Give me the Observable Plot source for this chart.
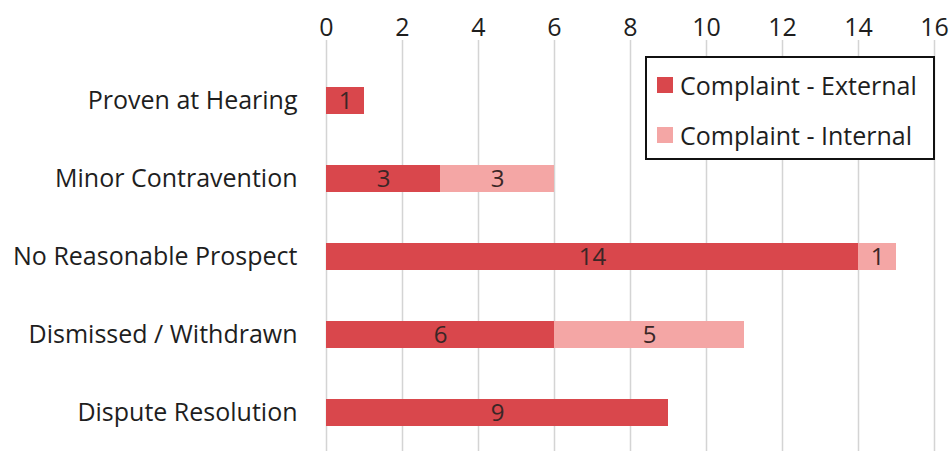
<!DOCTYPE html>
<html>
<head>
<meta charset="utf-8">
<script src="https://cdn.jsdelivr.net/npm/d3@7"></script>
<script src="https://cdn.jsdelivr.net/npm/@observablehq/plot@0.6"></script>
<style>
  body { margin: 0; background: #fff; }
  #wrap { position: relative; width: 949px; height: 451px; font-family: "Open Sans", sans-serif; }
  #legend { position: absolute; left: 645px; top: 56px; width: 286px; height: 100px; border: 2px solid #111; background: #fff; box-sizing: content-box; }
  .item { position: absolute; left: 10px; height: 34px; line-height: 34px; display: flex; align-items: center; font-size: 25px; color: #1e1e1e; white-space: nowrap; }
  .sw { width: 16px; height: 16px; margin-right: 7px; display: inline-block; }
</style>
</head>
<body>
<div id="wrap"></div>
<script>
const categories = ["Proven at Hearing", "Minor Contravention", "No Reasonable Prospect", "Dismissed / Withdrawn", "Dispute Resolution"];
const externalValues = [1, 3, 14, 6, 9];
const internalValues = [0, 3, 1, 5, 0];
const seriesNames = ["Complaint - External", "Complaint - Internal"];
const seriesColors = ["#d9474c", "#f4a6a5"];
const xTicks = [0, 2, 4, 6, 8, 10, 12, 14, 16];

const data = [];
categories.forEach((c, i) => {
  data.push({category: c, series: seriesNames[0], value: externalValues[i]});
  data.push({category: c, series: seriesNames[1], value: internalValues[i]});
});

const chart = Plot.plot({
  width: 949,
  height: 451,
  marginLeft: 326,
  marginRight: 15,
  marginTop: 40,
  marginBottom: 0,
  style: {fontFamily: "'Open Sans', sans-serif", fontSize: "25px", color: "#1e1e1e", background: "#fff"},
  x: {domain: [0, 16], ticks: xTicks, axis: "top", tickSize: 0, tickPadding: 5, label: null},
  y: {domain: categories, range: [61, 451], paddingInner: 0.654, paddingOuter: 0.327, align: 0.5, tickSize: 0, tickPadding: 29, label: null},
  color: {domain: seriesNames, range: seriesColors},
  marks: [
    Plot.gridX(xTicks, {stroke: "#d4d4d4", strokeOpacity: 1, strokeWidth: 1.5}),
    Plot.barX(data, Plot.stackX({x: "value", y: "category", fill: "series", z: "series"})),
    Plot.text(data, Plot.stackX({x: "value", y: "category", z: "series", text: d => d.value, filter: d => d.value > 0, fill: "#3a2626", fontSize: 24}))
  ]
});
const wrap = document.getElementById("wrap");
wrap.appendChild(chart);

const legend = document.createElement("div");
legend.id = "legend";
seriesNames.forEach((s, i) => {
  const it = document.createElement("div");
  it.className = "item";
  it.style.top = (i === 0 ? 10 : 60) + "px";
  it.innerHTML = `<span class="sw" style="background:${seriesColors[i]}"></span><span>${s}</span>`;
  legend.appendChild(it);
});
wrap.appendChild(legend);
</script>
</body>
</html>
